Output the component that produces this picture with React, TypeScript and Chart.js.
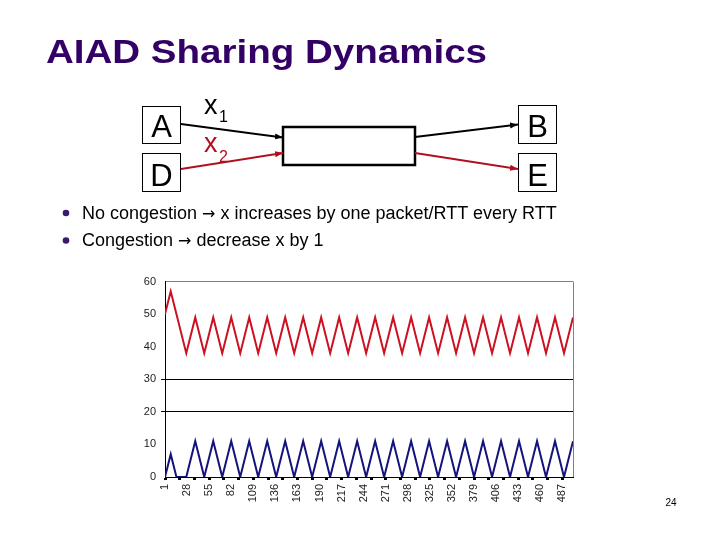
import React, { useEffect, useRef } from "react";
import { Chart, registerables } from "chart.js";

Chart.register(...registerables);

// Vertices of the two sawtooth series (x = RTT index, y = window in packets)
const RED_X = [1, 8, 27, 38, 49, 60, 71, 82, 93, 104, 115, 126, 137, 148, 159, 170, 181, 192, 203, 214, 225, 236, 247, 258, 269, 280, 291, 302, 313, 324, 335, 346, 357, 368, 379, 390, 401, 412, 423, 434, 445, 456, 467, 478, 489, 500];
const RED_Y = [50, 57, 38, 49, 38, 49, 38, 49, 38, 49, 38, 49, 38, 49, 38, 49, 38, 49, 38, 49, 38, 49, 38, 49, 38, 49, 38, 49, 38, 49, 38, 49, 38, 49, 38, 49, 38, 49, 38, 49, 38, 49, 38, 49, 38, 49];
const BLUE_X = [1, 8, 15, 27, 38, 49, 60, 71, 82, 93, 104, 115, 126, 137, 148, 159, 170, 181, 192, 203, 214, 225, 236, 247, 258, 269, 280, 291, 302, 313, 324, 335, 346, 357, 368, 379, 390, 401, 412, 423, 434, 445, 456, 467, 478, 489, 500];
const BLUE_Y = [0, 7, 0, 0, 11, 0, 11, 0, 11, 0, 11, 0, 11, 0, 11, 0, 11, 0, 11, 0, 11, 0, 11, 0, 11, 0, 11, 0, 11, 0, 11, 0, 11, 0, 11, 0, 11, 0, 11, 0, 11, 0, 11, 0, 11, 0, 11];

const X_LABELS = [1, 28, 55, 82, 109, 136, 163, 190, 217, 244, 271, 298, 325, 352, 379, 406, 433, 460, 487];
const X_TICK_MARKS = [1, 19, 37, 55, 73, 91, 109, 127, 145, 163, 181, 199, 217, 235, 253, 271, 289, 307, 325, 343, 361, 379, 397, 415, 433, 451, 469, 487];
const X_MIN = 1;
const X_MAX = 500;
const Y_MIN = 0;
const Y_MAX = 60;
const Y_STEP = 10;
const Y_GRID_VALUES = [20, 30];

const FONT = '"Liberation Sans", Arial, Helvetica, sans-serif';
const ARROW_FONT = '"DejaVu Sans", sans-serif';

export default function App() {
  const ref = useRef<HTMLCanvasElement>(null);

  useEffect(() => {
    const frame = {
      id: "frame",
      beforeDatasetsDraw(chart: any) {
        const { ctx, chartArea: a } = chart;
        ctx.save();
        ctx.strokeStyle = "#808080";
        ctx.lineWidth = 1;
        const x = Math.round(a.right) + 0.5;
        ctx.beginPath();
        ctx.moveTo(x, a.top);
        ctx.lineTo(x, a.bottom);
        ctx.stroke();
        ctx.restore();
      },
    };

    const gridColor = (c: any) => {
      const v = c.tick ? c.tick.value : null;
      if (v === Y_MAX) return "#808080";
      if (Y_GRID_VALUES.includes(v)) return "#000000";
      return "rgba(0,0,0,0)";
    };
    const tickColor = (c: any) => {
      const v = c.tick ? c.tick.value : null;
      if (Y_GRID_VALUES.includes(v)) return "#000000";
      return "rgba(0,0,0,0)";
    };

    const chart = new Chart(ref.current as HTMLCanvasElement, {
      type: "line",
      data: {
        datasets: [
          {
            label: "x1",
            data: BLUE_X.map((x, i) => ({ x, y: BLUE_Y[i] })),
            borderColor: "#14147c",
            borderWidth: 2,
            pointRadius: 0,
            tension: 0,
            fill: false,
          },
          {
            label: "x2",
            data: RED_X.map((x, i) => ({ x, y: RED_Y[i] })),
            borderColor: "#cc1222",
            borderWidth: 2,
            pointRadius: 0,
            tension: 0,
            fill: false,
          },
        ],
      },
      options: {
        animation: false,
        responsive: false,
        devicePixelRatio: 1,
        layout: { padding: { left: 0, right: 17, top: 10, bottom: 0 } },
        plugins: { legend: { display: false }, tooltip: { enabled: false } },
        scales: {
          x: {
            type: "linear",
            position: "bottom",
            weight: 1,
            min: X_MIN,
            max: X_MAX,
            afterBuildTicks: (s: any) => {
              s.ticks = X_LABELS.map((v) => ({ value: v }));
            },
            afterFit: (s: any) => {
              s.height = 43;
            },
            grid: { display: false, drawTicks: false, tickLength: 0 },
            border: { display: false },
            ticks: {
              autoSkip: false,
              minRotation: 90,
              maxRotation: 90,
              padding: 7,
              color: "#222222",
              font: { family: FONT, size: 11 },
              callback: (v: any) => String(v),
            },
          },
          xt: {
            type: "linear",
            position: "bottom",
            weight: 0,
            min: X_MIN,
            max: X_MAX,
            afterBuildTicks: (s: any) => {
              s.ticks = X_TICK_MARKS.map((v) => ({ value: v }));
            },
            afterFit: (s: any) => {
              s.height = 0;
            },
            grid: {
              display: true,
              drawOnChartArea: false,
              drawTicks: true,
              tickLength: 3,
              tickWidth: 3,
              tickColor: "#000000",
            },
            border: { display: true, color: "#000000", width: 1 },
            ticks: { display: false },
          },
          y: {
            min: Y_MIN,
            max: Y_MAX,
            afterFit: (s: any) => {
              s.width = 45;
            },
            ticks: {
              stepSize: Y_STEP,
              padding: 5,
              color: "#222222",
              font: { family: FONT, size: 11 },
            },
            grid: {
              color: gridColor,
              tickColor: tickColor,
              tickLength: 4,
              lineWidth: 1,
            },
            border: { color: "#000000", width: 1 },
          },
        },
      } as any,
      plugins: [frame],
    });
    return () => chart.destroy();
  }, []);

  const black = "#000000";
  const red = "#b0101e";

  return (
    <div
      style={{
        position: "absolute",
        left: 0,
        top: 0,
        width: 720,
        height: 540,
        background: "#ffffff",
        overflow: "hidden",
        fontFamily: FONT,
      }}
    >
      <div style={{ position: "absolute", left: 120, top: 270, width: 470, height: 250 }}>
        <canvas ref={ref} width={470} height={250} style={{ display: "block", width: 470, height: 250 }} />
      </div>
      <svg
        width={720}
        height={540}
        style={{ position: "absolute", left: 0, top: 0, pointerEvents: "none" }}
        fontFamily={FONT}
      >
        <defs>
          <marker id="arrBlack" markerUnits="userSpaceOnUse" markerWidth="9" markerHeight="8" refX="8" refY="4" orient="auto">
            <path d="M0,1 L8,4 L0,7 Z" fill={black} />
          </marker>
          <marker id="arrRed" markerUnits="userSpaceOnUse" markerWidth="9" markerHeight="8" refX="8" refY="4" orient="auto">
            <path d="M0,1 L8,4 L0,7 Z" fill={red} />
          </marker>
        </defs>

        <text
          x={46}
          y={63}
          fontSize={32.5}
          fontWeight="bold"
          fill="#330066"
          textLength={441}
          lengthAdjust="spacingAndGlyphs"
        >
          AIAD Sharing Dynamics
        </text>

        {/* endpoint boxes */}
        <rect x={142.5} y={106.5} width={38} height={37} fill="none" stroke={black} strokeWidth={1} />
        <rect x={142.5} y={153.5} width={38} height={38} fill="none" stroke={black} strokeWidth={1} />
        <rect x={518.5} y={105.5} width={38} height={38} fill="none" stroke={black} strokeWidth={1} />
        <rect x={518.5} y={153.5} width={38} height={38} fill="none" stroke={black} strokeWidth={1} />
        <rect x={283} y={127} width={132} height={38} fill="none" stroke={black} strokeWidth={2.5} />

        <text x={161.5} y={136.5} fontSize={31} textAnchor="middle" fill={black}>A</text>
        <text x={161.5} y={185.5} fontSize={31} textAnchor="middle" fill={black}>D</text>
        <text x={537.5} y={136.5} fontSize={31} textAnchor="middle" fill={black}>B</text>
        <text x={537.5} y={185.5} fontSize={31} textAnchor="middle" fill={black}>E</text>

        <text x={204} y={114} fontSize={27} fill={black}>x</text>
        <text x={219} y={121.5} fontSize={16} fill={black}>1</text>
        <text x={204} y={151.5} fontSize={27} fill={red}>x</text>
        <text x={219} y={161.5} fontSize={16} fill={red}>2</text>

        <line x1={181} y1={124} x2={283} y2={137.5} stroke={black} strokeWidth={2} markerEnd="url(#arrBlack)" />
        <line x1={181} y1={169} x2={283} y2={153} stroke={red} strokeWidth={2} markerEnd="url(#arrRed)" />
        <line x1={415} y1={137} x2={518} y2={124.5} stroke={black} strokeWidth={2} markerEnd="url(#arrBlack)" />
        <line x1={415} y1={153} x2={518} y2={169} stroke={red} strokeWidth={2} markerEnd="url(#arrRed)" />

        <circle cx={66} cy={213} r={3.3} fill="#3a1a6a" />
        <circle cx={66} cy={240.5} r={3.3} fill="#3a1a6a" />
        <text x={82} y={219} fontSize={18} fill={black}>
          No congestion <tspan fontFamily={ARROW_FONT} fontSize={16}>→</tspan> x increases by one packet/RTT every RTT
        </text>
        <text x={82} y={246} fontSize={18} fill={black}>
          Congestion <tspan fontFamily={ARROW_FONT} fontSize={16}>→</tspan> decrease x by 1
        </text>

        <text x={671} y={506} fontSize={10} textAnchor="middle" fill={black}>24</text>
      </svg>
    </div>
  );
}
